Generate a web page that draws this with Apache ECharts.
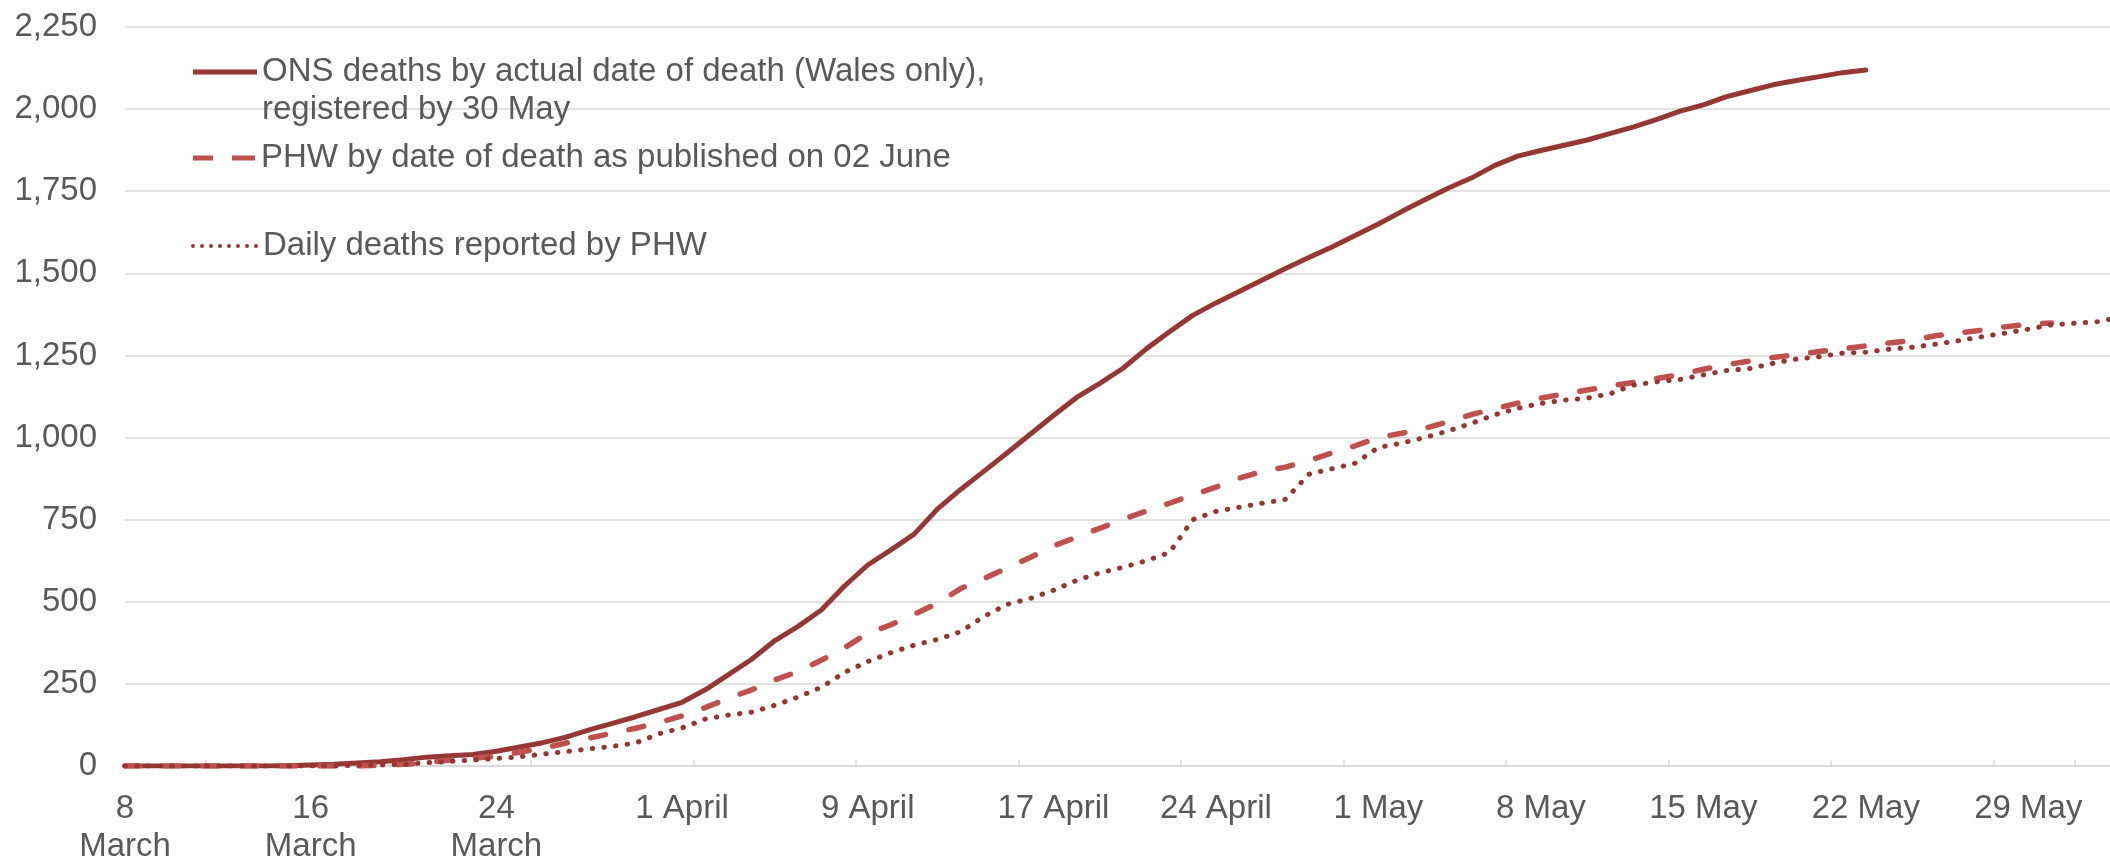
<!DOCTYPE html>
<html>
<head>
<meta charset="utf-8">
<script src="https://cdn.jsdelivr.net/npm/echarts@6/dist/echarts.min.js"></script>
<style>
html,body{margin:0;padding:0;background:#fff;}
#chart{width:2110px;height:859px;}
</style>
</head>
<body>
<div id="chart"></div>
<script>
// day 0 = 8 March 2020
var seriesNames = [
	'ONS deaths by actual date of death (Wales only),\nregistered by 30 May',
	'PHW by date of death as published on 02 June',
	'Daily deaths reported by PHW'
];
var onsDeaths = [0,0,0,0,0,0,0,1,3,5,9,13,19,27,31,35,45,58,71,88,110,130,150,172,194,232,278,325,382,425,475,548,612,658,706,782,842,897,953,1010,1067,1122,1165,1211,1270,1322,1372,1410,1445,1480,1515,1548,1580,1615,1650,1688,1724,1759,1790,1828,1857,1874,1890,1906,1926,1946,1969,1994,2013,2038,2056,2074,2087,2099,2111,2119];
var phwByDate = [0,0,0,0,0,0,0,0,0,0,0,2,5,10,18,24,30,42,54,70,85,100,115,132,153,178,206,232,262,288,322,360,404,430,462,495,540,570,603,635,670,697,724,751,776,800,825,849,876,897,910,930,953,975,1000,1013,1028,1048,1070,1087,1105,1120,1133,1145,1157,1168,1180,1192,1208,1222,1233,1244,1252,1262,1270,1279,1288,1296,1310,1318,1327,1337,1345,1349];
var phwDaily = [0,0,0,0,0,0,0,0,0,0,2,3,5,10,14,18,23,28,36,44,52,60,70,98,116,143,155,164,185,210,240,285,318,345,368,385,409,455,492,510,535,565,588,605,625,650,750,775,788,800,812,888,905,922,970,983,1000,1020,1043,1069,1089,1104,1114,1120,1134,1160,1170,1177,1191,1204,1210,1226,1239,1246,1257,1260,1269,1275,1284,1295,1307,1318,1330,1343,1348,1353,1367];

var labelDays = [0,8,16,24,32,40,47,54,61,68,75,82];
var labelTexts = ['8\nMarch','16\nMarch','24\nMarch','1 April','9 April','17 April','24 April','1 May','8 May','15 May','22 May','29 May'];
var tickDays = [3.5,10.5,17.5,24.5,31.5,38.5,45.5,52.5,59.5,66.5,73.5,80.5,84];

var fontName = 'Liberation Sans, Arial, sans-serif';
var textGrey = '#595959';
var gridGrey = '#d9d9d9';

// legend keys drawn as small paths
var solidKey = 'path://M0,0H64V5H0Z';
var dashKey = 'path://M0,0H20V5H0Z M39,0H62V5H39Z';
var dotKey = 'path://M0,2a2,2 0 1,0 4,0a2,2 0 1,0 -4,0Z M9,2a2,2 0 1,0 4,0a2,2 0 1,0 -4,0Z M18,2a2,2 0 1,0 4,0a2,2 0 1,0 -4,0Z M27,2a2,2 0 1,0 4,0a2,2 0 1,0 -4,0Z M36,2a2,2 0 1,0 4,0a2,2 0 1,0 -4,0Z M45,2a2,2 0 1,0 4,0a2,2 0 1,0 -4,0Z M54,2a2,2 0 1,0 4,0a2,2 0 1,0 -4,0Z M63,2a2,2 0 1,0 4,0a2,2 0 1,0 -4,0Z';

function toPoints(arr){
	var out = [];
	for(var i=0;i<arr.length;i++){
		out.push([i, arr[i]]);
	}
	return out;
}

function makeLegend(name, icon, left, top, w, h, formatter){
	return {
		data: [{name: name, icon: icon}],
		left: left,
		top: top,
		padding: 0,
		itemWidth: w,
		itemHeight: h,
		selectedMode: false,
		formatter: formatter,
		textStyle: {fontFamily: fontName, fontSize: 33, lineHeight: 38, color: textGrey}
	};
}

var myChart = echarts.init(document.getElementById('chart'), null, {renderer: 'canvas'});
myChart.setOption({
	animation: false,
	backgroundColor: '#fff',
	grid: {left: 125, right: 0, top: 27, bottom: 93, containLabel: false, outerBoundsMode: 'none'},
	legend: [
		// blank first line keeps the key level with the first text line
		makeLegend(seriesNames[0], solidKey, 193, 15, 64, 5, function(n){ return '\n' + n; }),
		makeLegend(seriesNames[1], dashKey, 193, 139, 64, 5),
		makeLegend(seriesNames[2], dotKey, 191, 227, 67, 4)
	],
	xAxis: {
		type: 'value',
		min: 0,
		max: 85.52,
		splitLine: {show: false},
		axisLine: {show: true, lineStyle: {color: gridGrey, width: 1.5}},
		axisTick: {show: true, inside: true, length: 6, customValues: tickDays, lineStyle: {color: gridGrey, width: 1.5}},
		axisLabel: {
			customValues: labelDays,
			margin: 24,
			fontFamily: fontName,
			fontSize: 33,
			lineHeight: 38,
			color: textGrey,
			formatter: function(v){
				var k = labelDays.indexOf(Math.round(v));
				return k >= 0 ? labelTexts[k] : '';
			}
		}
	},
	yAxis: {
		type: 'value',
		min: 0,
		max: 2250,
		interval: 250,
		axisLine: {show: false},
		axisTick: {show: false},
		splitLine: {lineStyle: {color: gridGrey, width: 1.5}},
		axisLabel: {
			margin: 28,
			fontFamily: fontName,
			fontSize: 33,
			color: textGrey,
			formatter: function(v){ return v.toLocaleString('en-US'); }
		}
	},
	series: [
		{
			name: seriesNames[0],
			type: 'line',
			data: toPoints(onsDeaths),
			symbol: 'none',
			clip: true,
			lineStyle: {color: '#953735', width: 5, cap: 'round', join: 'round'},
			itemStyle: {color: '#953735'}
		},
		{
			name: seriesNames[1],
			type: 'line',
			data: toPoints(phwByDate),
			symbol: 'none',
			clip: true,
			lineStyle: {color: '#c0504d', width: 5.5, type: [15, 24], cap: 'round', join: 'round'},
			itemStyle: {color: '#c0504d'}
		},
		{
			name: seriesNames[2],
			type: 'line',
			data: toPoints(phwDaily),
			symbol: 'none',
			clip: true,
			lineStyle: {color: '#943634', width: 5, type: [0.5, 11.2], cap: 'round', join: 'round'},
			itemStyle: {color: '#943634'}
		}
	]
});
</script>
</body>
</html>
